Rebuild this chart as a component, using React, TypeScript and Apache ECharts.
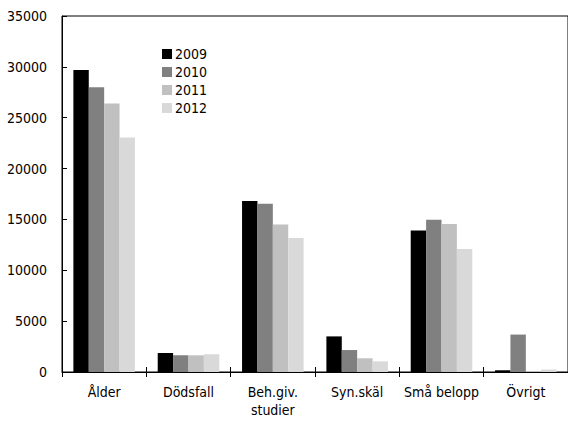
import React, { useEffect, useRef } from "react";
import * as echarts from "echarts";

const categories = ["Ålder", "Dödsfall", "Beh.giv.\nstudier", "Syn.skäl", "Små belopp", "Övrigt"];
const years = ["2009", "2010", "2011", "2012"];
const v2009 = [29700, 1870, 16800, 3500, 13900, 170];
const v2010 = [28000, 1640, 16550, 2160, 14980, 3680];
const v2011 = [26400, 1640, 14500, 1350, 14550, 100];
const v2012 = [23050, 1740, 13180, 1050, 12100, 240];
const seriesValues = [v2009, v2010, v2011, v2012];
const colors = ["#000000", "#808080", "#c0c0c0", "#d9d9d9"];
const yTicks = { min: 0, max: 35000, interval: 5000 };

const FONT = "'DejaVu Sans Condensed', 'Liberation Sans Narrow', sans-serif";

export default function App() {
  const ref = useRef<HTMLDivElement>(null);
  useEffect(() => {
    if (!ref.current) return;
    const chart = echarts.init(ref.current, null, { renderer: "svg" });
    chart.setOption({
      animation: false,
      backgroundColor: "#ffffff",
      textStyle: { fontFamily: FONT },
      grid: {
        show: true,
        left: 62,
        top: 16,
        bottom: 49,
        right: -5,
        borderColor: "#000",
        borderWidth: 1,
        backgroundColor: "transparent",
      },
      legend: {
        orient: "vertical",
        left: 157,
        top: 42,
        itemWidth: 10,
        itemHeight: 10,
        itemGap: 4,
        icon: "rect",
        data: years,
        textStyle: {
          fontFamily: FONT,
          fontSize: 14,
          lineHeight: 14,
          color: "#000",
          padding: [0, 0, 0, -2],
        },
      },
      xAxis: [
        {
          type: "category",
          position: "bottom",
          data: categories,
          axisLine: { show: true, lineStyle: { color: "#000", width: 1 } },
          axisTick: { show: true, inside: false, length: 5, lineStyle: { color: "#000" } },
          axisLabel: {
            fontFamily: FONT,
            fontSize: 14,
            color: "#000",
            margin: 11,
            lineHeight: 18,
            interval: 0,
          },
          splitLine: { show: false },
        },
        {
          type: "category",
          position: "bottom",
          data: categories,
          axisLine: { show: false },
          axisTick: { show: true, inside: true, length: 5, lineStyle: { color: "#000" } },
          axisLabel: { show: false },
          splitLine: { show: false },
        },
      ],
      yAxis: {
        type: "value",
        min: yTicks.min,
        max: yTicks.max,
        interval: yTicks.interval,
        axisLine: { show: true, lineStyle: { color: "#000", width: 1 } },
        axisTick: { show: true, inside: true, length: 5, lineStyle: { color: "#000" } },
        axisLabel: {
          fontFamily: FONT,
          fontSize: 14,
          color: "#000",
          margin: 15,
          formatter: (v: number) => String(v),
        },
        splitLine: { show: false },
      },
      series: years.map((y, i) => ({
        name: y,
        type: "bar",
        xAxisIndex: 0,
        data: seriesValues[i],
        barGap: "0%",
        barCategoryGap: "27%",
        itemStyle: { color: colors[i] },
      })),
    });
    return () => chart.dispose();
  }, []);
  return (
    <div
      ref={ref}
      style={{ position: "fixed", left: 0, top: 0, width: 568, height: 421 }}
    />
  );
}
